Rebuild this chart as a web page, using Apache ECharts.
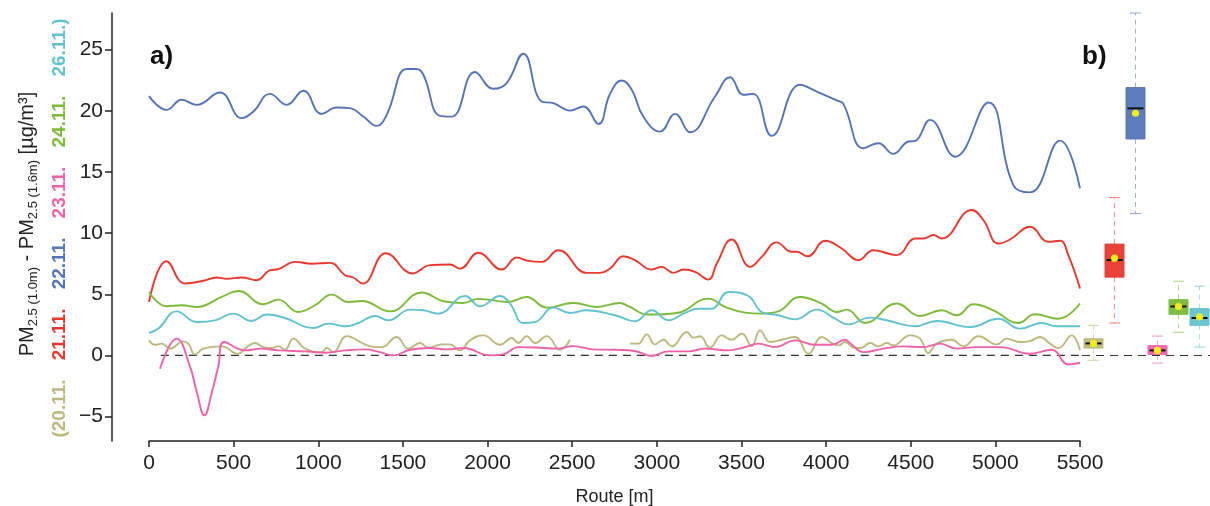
<!DOCTYPE html>
<html>
<head>
<meta charset="utf-8">
<title>PM2.5 1.0m - 1.6m along route</title>
<script src="https://cdn.jsdelivr.net/npm/echarts@6/dist/echarts.min.js"></script>
<style>
  html, body { margin: 0; padding: 0; background: #fff; }
  #chart { width: 1210px; height: 506px; }
</style>
</head>
<body>
<div id="chart"></div>
<script type="text/javascript">
// route position [m], PM2.5(1.0m) - PM2.5(1.6m) [µg/m³]
var d2011 = [[0,1.23],[35,0.87],[75,0.96],[124,0.55],[203,1.15],[232,0.96],[272,0.08],[321,0.55],[429,0.74],[528,0.14],[567,0.55],[626,1.01],[675,0.68],[725,0.6],[764,0.76],[803,0.46],[853,1.37],[922,0.55],[1020,0.27],[1050,0.6],[1089,0.27],[1168,1.58],[1276,0.9],[1335,0.68],[1375,0.68],[1463,1.5],[1532,0.55],[1601,1.01],[1650,0.63],[1729,0.9],[1778,0.9],[1837,0.41],[1896,1.23],[1975,1.64],[2074,0.87],[2143,1.42],[2182,1.01],[2231,1.58],[2281,1.01],[2350,1.58],[2428,0.46],[2487,1.28],[2660,'-'],[2842,0.96],[2891,0.96],[2940,1.72],[2989,0.9],[3039,1.28],[3088,0.74],[3177,1.91],[3216,1.45],[3255,1.56],[3314,0.63],[3383,1.64],[3443,1.28],[3502,1.78],[3561,0.76],[3610,2.05],[3669,1.09],[3738,1.28],[3817,1.5],[3895,0.14],[3974,1.5],[4033,1.01],[4073,0.82],[4112,1.09],[4171,0.6],[4210,0.63],[4260,1.01],[4309,0.74],[4358,1.01],[4397,0.82],[4496,1.64],[4555,1.37],[4604,0.19],[4653,0.96],[4742,1.28],[4811,0.74],[4900,1.56],[5008,0.9],[5067,1.37],[5146,1.09],[5205,1.17],[5264,1.5],[5323,0.96],[5372,0.6],[5451,1.64],[5500,0.41]];
var d2111 = [[0,4.37],[104,7.7],[213,5.88],[321,6.1],[400,6.37],[459,6.26],[548,6.37],[636,6.15],[715,6.97],[764,7.05],[863,7.65],[961,7.5],[1069,7.57],[1158,6.56],[1207,6.37],[1262,5.88],[1400,8.35],[1558,6.7],[1660,7.38],[1778,7.43],[1837,7.1],[1946,8.39],[2084,7.02],[2172,8.0],[2241,7.73],[2320,7.65],[2418,8.6],[2586,6.75],[2655,6.75],[2724,7.1],[2802,8.11],[2871,7.79],[2970,7.02],[3029,7.24],[3098,6.75],[3157,7.02],[3226,6.83],[3305,6.2],[3354,7.51],[3443,9.48],[3551,7.24],[3620,8.06],[3708,9.24],[3797,8.47],[3826,8.47],[3892,8.11],[3994,9.37],[4092,8.74],[4191,7.79],[4279,8.6],[4417,8.2],[4526,9.56],[4575,9.56],[4634,9.84],[4683,9.56],[4860,11.89],[4929,11.07],[5018,9.15],[5087,9.48],[5205,10.52],[5313,9.29],[5382,9.37],[5431,8.2],[5500,5.47]];
var d2211 = [[0,21.2],[104,20.08],[193,20.9],[282,20.49],[419,21.5],[548,19.4],[616,19.94],[715,21.39],[813,20.49],[912,21.64],[1020,19.75],[1109,20.27],[1187,20.22],[1266,19.53],[1345,18.77],[1404,19.67],[1522,23.42],[1581,23.42],[1621,22.95],[1719,19.59],[1788,19.53],[1926,23.17],[2034,21.8],[2113,22.27],[2211,24.67],[2320,20.76],[2389,20.63],[2487,20.02],[2566,20.35],[2655,18.93],[2724,21.4],[2793,22.48],[2852,21.72],[2920,19.53],[3019,18.3],[3108,19.75],[3196,18.25],[3344,21.17],[3433,22.75],[3511,21.31],[3570,21.39],[3679,17.95],[3846,22.13],[3945,21.58],[4063,20.85],[4102,20.57],[4220,16.94],[4309,17.35],[4397,16.48],[4486,17.49],[4526,17.54],[4614,19.26],[4762,16.25],[4959,20.68],[5106,13.93],[5205,13.33],[5382,17.56],[5500,13.66]];
var d2311 = [[65,-1.09],[163,1.37],[242,-0.9],[284,-3.1],[327,-4.9],[370,-3.1],[409,-0.9],[444,1.09],[567,0.41],[665,0.55],[764,0.41],[922,0.33],[1040,0.22],[1158,0.41],[1276,0.49],[1365,0.27],[1443,0.0],[1542,0.46],[1660,0.6],[1759,0.49],[1857,0.6],[2015,0.0],[2093,0.08],[2182,0.68],[2310,0.63],[2409,0.55],[2507,0.76],[2625,0.49],[2753,0.46],[2871,0.36],[2970,-0.05],[3068,0.33],[3186,0.33],[3285,0.55],[3423,0.41],[3521,0.68],[3600,0.96],[3698,0.68],[3817,1.23],[3935,0.87],[4033,0.87],[4112,1.28],[4141,1.01],[4220,0.27],[4338,0.55],[4456,0.74],[4575,0.68],[4673,0.96],[4772,0.55],[4890,0.68],[5028,0.68],[5205,0.14],[5333,0.46],[5431,-0.74],[5500,-0.6]];
var d2411 = [[0,5.19],[104,4.02],[193,4.1],[282,3.96],[429,4.78],[528,5.27],[675,4.18],[764,4.56],[882,3.55],[981,4.1],[1079,4.97],[1177,4.37],[1257,4.45],[1424,3.6],[1611,5.14],[1739,4.43],[1857,4.29],[1946,4.62],[2123,4.37],[2231,4.78],[2350,3.91],[2507,4.29],[2645,3.96],[2783,4.29],[2832,4.02],[2950,3.34],[3118,3.47],[3305,4.64],[3403,3.96],[3521,3.5],[3620,3.42],[3718,3.6],[3846,4.78],[3974,4.24],[4063,3.55],[4122,3.74],[4230,2.65],[4417,4.24],[4555,3.22],[4683,3.69],[4772,3.28],[4870,4.18],[4988,3.69],[5136,2.65],[5234,3.36],[5372,3.0],[5500,4.24]];
var d2611 = [[0,1.83],[55,2.19],[163,3.6],[282,2.73],[390,2.87],[498,3.42],[606,2.81],[695,3.34],[803,3.06],[971,2.24],[1059,2.6],[1158,2.38],[1237,2.65],[1335,3.22],[1414,2.87],[1542,3.74],[1621,3.69],[1709,3.42],[1867,4.86],[1956,4.02],[2074,4.86],[2133,4.24],[2212,2.65],[2281,2.73],[2389,3.91],[2487,3.47],[2586,3.69],[2753,3.28],[2871,2.79],[2970,3.69],[3068,2.87],[3167,3.47],[3245,3.82],[3324,3.82],[3423,5.19],[3541,4.86],[3620,3.55],[3718,3.28],[3817,2.95],[3945,3.74],[4053,3.0],[4131,2.54],[4260,3.09],[4358,2.87],[4526,2.38],[4653,2.81],[4851,2.32],[5018,3.0],[5146,2.19],[5274,2.65],[5362,2.38],[5500,2.38]];
var zeroLine = [[70,0],[5500,0]];

// box plot (b)
var boxDates = ['20.11.','21.11.','22.11.','23.11.','24.11.','26.11.'];
var boxMin  = [-0.4, 2.65, 11.6, -0.63, 1.89, 0.68];
var boxQ1   = [0.6, 6.4, 17.7, 0.08, 3.36, 2.46];
var boxMed  = [0.98, 7.8, 20.2, 0.41, 4.0, 3.06];
var boxQ3   = [1.37, 9.1, 21.9, 0.8, 4.56, 3.83];
var boxMax  = [2.46, 12.9, 28.0, 1.58, 6.07, 5.66];
var boxMean = [0.98, 7.95, 19.8, 0.41, 4.0, 3.15];

var yTicks = [-5, 0, 5, 10, 15, 20, 25];
var colors = ['#bdb97c', '#e8382e', '#5574b7', '#ef62a9', '#7cbb38', '#62c2ce'];
var font = '"Liberation Sans", Arial, sans-serif';

var boxData = boxDates.map(function (d, i) {
    return [i, boxMin[i], boxQ1[i], boxMed[i], boxQ3[i], boxMax[i], boxMean[i]];
});

function lineSeries(name, data, color) {
    return {
        name: name, type: 'line', xAxisIndex: 0, yAxisIndex: 0,
        data: data, smooth: 0.45, symbol: 'none', connectNulls: false,
        lineStyle: { color: color, width: 1.9 }
    };
}

function renderBox(params, api) {
    var i = api.value(0);
    var col = colors[i];
    var lo = api.coord([i, api.value(1)]);
    var q1 = api.coord([i, api.value(2)]);
    var md = api.coord([i, api.value(3)]);
    var q3 = api.coord([i, api.value(4)]);
    var hi = api.coord([i, api.value(5)]);
    var mn = api.coord([i, api.value(6)]);
    var x = Math.round(lo[0]) + 0.5;
    var bw = 19, cw = 11, mw = 16;
    var wl = { stroke: col, lineWidth: 1, lineDash: [5, 4], opacity: 0.55 };
    var cl = { stroke: col, lineWidth: 1, opacity: 0.65 };
    return {
        type: 'group',
        children: [
            { type: 'line', shape: { x1: x, y1: q3[1], x2: x, y2: hi[1] }, style: wl },
            { type: 'line', shape: { x1: x, y1: q1[1], x2: x, y2: lo[1] }, style: wl },
            { type: 'line', shape: { x1: x - cw / 2, y1: hi[1], x2: x + cw / 2, y2: hi[1] }, style: cl },
            { type: 'line', shape: { x1: x - cw / 2, y1: lo[1], x2: x + cw / 2, y2: lo[1] }, style: cl },
            { type: 'rect', shape: { x: x - bw / 2, y: q3[1], width: bw, height: q1[1] - q3[1] },
              style: { fill: col, stroke: col, lineWidth: 1, opacity: 0.95 } },
            { type: 'line', shape: { x1: x - mw / 2, y1: md[1], x2: x + mw / 2, y2: md[1] },
              style: { stroke: '#111', lineWidth: 2 } },
            { type: 'circle', shape: { cx: x, cy: mn[1], r: 3.6 }, style: { fill: '#f2ec1a' } }
        ]
    };
}

var myChart = echarts.init(document.getElementById('chart'));
var option = {
    animation: false,
    backgroundColor: '#fff',
    textStyle: { fontFamily: font },
    grid: [
        { left: 149, width: 931, top: 13, height: 428, outerBoundsMode: 'none' },
        { left: 1082, width: 128, top: 13, height: 428, outerBoundsMode: 'none' }
    ],
    xAxis: [
        {
            gridIndex: 0, type: 'value', min: 0, max: 5500, interval: 500,
            name: 'Route [m]', nameLocation: 'middle', nameGap: 47,
            nameTextStyle: { fontSize: 18, color: '#222', fontFamily: font },
            axisLine: { onZero: false, lineStyle: { color: '#222', width: 1.5 } },
            axisTick: { length: 6, lineStyle: { color: '#222', width: 1.5 } },
            axisLabel: { fontSize: 21, color: '#222', margin: 12, fontFamily: font,
                formatter: function (v) { return String(v); } },
            splitLine: { show: false }
        },
        {
            gridIndex: 1, type: 'category', data: boxDates, show: false
        }
    ],
    yAxis: [
        {
            gridIndex: 0, type: 'value', min: -7, max: 28, offset: 37,
            axisLine: { show: true, onZero: false, lineStyle: { color: '#222', width: 1.5 } },
            axisTick: { show: true, length: 7, customValues: yTicks, lineStyle: { color: '#222', width: 1.5 } },
            axisLabel: { fontSize: 21, color: '#222', margin: 9, customValues: yTicks, fontFamily: font,
                formatter: function (v) { return v < 0 ? '\u2212' + Math.abs(v) : String(v); } },
            splitLine: { show: false }
        },
        {
            gridIndex: 1, type: 'value', min: -7, max: 28, show: false, splitLine: { show: false }
        }
    ],
    series: [
        {
            name: 'zero', type: 'line', xAxisIndex: 0, yAxisIndex: 0, data: zeroLine,
            symbol: 'none', silent: true, z: 1,
            lineStyle: { color: '#333', width: 1.2, type: [8, 6] }
        },
        lineSeries('20.11.', d2011, colors[0]),
        lineSeries('21.11.', d2111, colors[1]),
        lineSeries('22.11.', d2211, colors[2]),
        lineSeries('23.11.', d2311, colors[3]),
        lineSeries('24.11.', d2411, colors[4]),
        lineSeries('26.11.', d2611, colors[5]),
        {
            name: 'box', type: 'custom', xAxisIndex: 1, yAxisIndex: 1,
            data: boxData, renderItem: renderBox, clip: false,
            encode: { x: 0, y: [1, 2, 3, 4, 5, 6] },
            markLine: {
                symbol: 'none', silent: true, label: { show: false },
                lineStyle: { color: '#333', width: 1.2, type: [8, 6] },
                data: [{ yAxis: 0 }]
            }
        }
    ],
    graphic: [
        { type: 'text', x: 150, y: 57,
          style: { text: 'a)', fontSize: 26, fontWeight: 'bold', fontFamily: font, fill: '#111',
                   textAlign: 'left', textVerticalAlign: 'middle' } },
        { type: 'text', x: 1082, y: 57,
          style: { text: 'b)', fontSize: 26, fontWeight: 'bold', fontFamily: font, fill: '#111',
                   textAlign: 'left', textVerticalAlign: 'middle' } },
        { type: 'text', x: 27, y: 224, rotation: Math.PI / 2,
          style: {
              text: '{n|PM}{s|2.5 (1.0m)}{n| - PM}{s|2.5 (1.6m)}{n| [µg/m³]}',
              textAlign: 'center', textVerticalAlign: 'middle', fill: '#222', fontFamily: font,
              rich: {
                  n: { fontSize: 20, lineHeight: 26, fontFamily: font, fill: '#222', verticalAlign: 'middle' },
                  s: { fontSize: 13, lineHeight: 13, fontFamily: font, fill: '#222', verticalAlign: 'bottom' }
              }
          } },
        { type: 'text', x: 60, y: 228, rotation: Math.PI / 2,
          style: {
              text: '{a|(20.11.}{g|   }{b|21.11.}{g|   }{c|22.11.}{g|   }{d|23.11.}{g|   }{e|24.11.}{g|   }{f|26.11.)}',
              textAlign: 'center', textVerticalAlign: 'middle', fontSize: 19, fontWeight: 'bold',
              fontFamily: font,
              rich: {
                  g: { fontSize: 23, fontFamily: font },
                  a: { fontSize: 19, fontWeight: 'bold', fontFamily: font, fill: colors[0] },
                  b: { fontSize: 19, fontWeight: 'bold', fontFamily: font, fill: colors[1] },
                  c: { fontSize: 19, fontWeight: 'bold', fontFamily: font, fill: colors[2] },
                  d: { fontSize: 19, fontWeight: 'bold', fontFamily: font, fill: colors[3] },
                  e: { fontSize: 19, fontWeight: 'bold', fontFamily: font, fill: colors[4] },
                  f: { fontSize: 19, fontWeight: 'bold', fontFamily: font, fill: colors[5] }
              }
          } }
    ]
};
myChart.setOption(option);
</script>
</body>
</html>
